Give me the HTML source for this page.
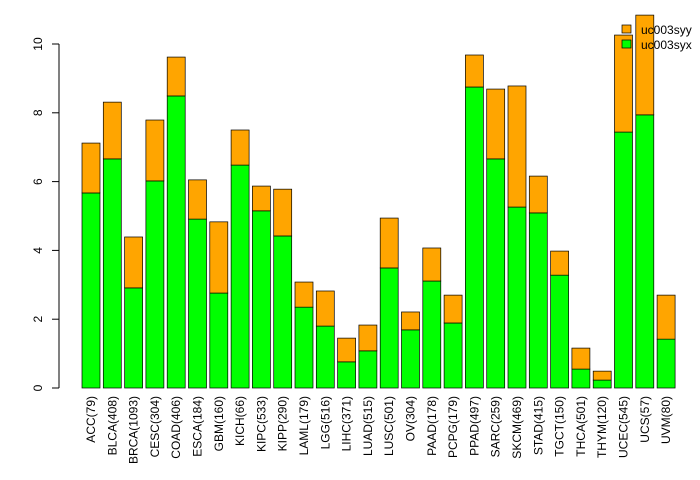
<!DOCTYPE html>
<html><head><meta charset="utf-8"><style>
body{margin:0;background:#fff}
svg{display:block;font-family:"Liberation Sans",Arial,sans-serif}
</style></head><body>
<svg id="chart" width="700" height="480" viewBox="0 0 700 480">
<g id="yaxis"></g>
<g id="bars"></g>
<g id="xlabels"></g>
<g>
<rect x="622" y="25" width="9" height="8" fill="#FFA500" stroke="#000" stroke-width="0.7"/>
<text x="641" y="34" font-size="12">uc003syy</text>
<rect x="622" y="40" width="9" height="8" fill="#00FF00" stroke="#000" stroke-width="0.7"/>
<text x="641" y="49" font-size="12">uc003syx</text>
</g>
</svg>
<script>
const categories=["ACC(79)","BLCA(408)","BRCA(1093)","CESC(304)","COAD(406)","ESCA(184)","GBM(160)","KICH(66)","KIPC(533)","KIPP(290)","LAML(179)","LGG(516)","LIHC(371)","LUAD(515)","LUSC(501)","OV(304)","PAAD(178)","PCPG(179)","PPAD(497)","SARC(259)","SKCM(469)","STAD(415)","TGCT(150)","THCA(501)","THYM(120)","UCEC(545)","UCS(57)","UVM(80)"];
const seriesSyx=[5.67,6.66,2.91,6.02,8.49,4.91,2.76,6.48,5.15,4.42,2.35,1.80,0.76,1.08,3.49,1.69,3.11,1.89,8.75,6.66,5.26,5.09,3.28,0.55,0.23,7.44,7.94,1.42];
const seriesTotal=[7.12,8.31,4.39,7.79,9.62,6.05,4.83,7.50,5.87,5.78,3.08,2.82,1.45,1.83,4.94,2.21,4.07,2.70,9.68,8.69,8.78,6.16,3.98,1.16,0.49,10.26,10.84,2.70];
const yTicks=[0,2,4,6,8,10];
const NS="http://www.w3.org/2000/svg";
const y0=388,ppu=34.4;
function yScale(v){return y0-v*ppu;}
const x0=82,pitch=21.3,bw=18;
function xScale(i){return x0+i*pitch;}
function mk(tag,attrs,parent){const e=document.createElementNS(NS,tag);for(const k in attrs)e.setAttribute(k,attrs[k]);parent.appendChild(e);return e;}
const ya=document.getElementById('yaxis');
const axl=mk('line',{x1:59,x2:59,y1:yScale(0),y2:yScale(10),stroke:'#000'},ya);


yTicks.forEach(t=>{
 const l=mk('line',{x1:52,x2:59,y1:yScale(t),y2:yScale(t),stroke:'#000'},ya);
 
 
 const tx=mk('text',{x:42,y:yScale(t),'font-size':12,'text-anchor':'middle',transform:`rotate(-90 42 ${yScale(t)})`},ya);
 tx.textContent=t;
 
 
});
const bg=document.getElementById('bars'),xl=document.getElementById('xlabels');
categories.forEach((c,i)=>{
 const x=xScale(i);
 const g=mk('rect',{x:x,y:yScale(seriesSyx[i]),width:bw,height:seriesSyx[i]*ppu,fill:'#00FF00',stroke:'#000','stroke-width':0.7},bg);
 
 
 const o=mk('rect',{x:x,y:yScale(seriesTotal[i]),width:bw,height:(seriesTotal[i]-seriesSyx[i])*ppu,fill:'#FFA500',stroke:'#000','stroke-width':0.7},bg);
 
 
 const cx=x+bw/2+4,ty=396;
 const t=mk('text',{x:cx,y:ty,'font-size':12,'text-anchor':'end',transform:`rotate(-90 ${cx} ${ty})`},xl);
 t.textContent=c;
 
 
});
</script>
</body></html>
